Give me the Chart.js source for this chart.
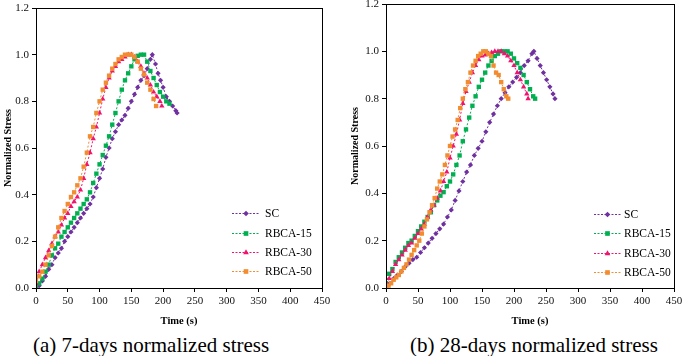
<!DOCTYPE html>
<html>
<head>
<meta charset="utf-8">
<script src="https://cdn.jsdelivr.net/npm/chart.js@4.4.1/dist/chart.umd.min.js"></script>
<style>
	body { margin: 0; background: #fff; }
	#wrap { position: relative; width: 685px; height: 356px; overflow: hidden; }
	canvas { position: absolute; top: 0; }
	.cap { position: absolute; top: 335px; font: 21px "Liberation Serif", "Times New Roman", serif; line-height: 21px; color: #000; white-space: nowrap; }
</style>
</head>
<body>
<div id="wrap">
	<canvas id="c7" width="340" height="330" style="left:0"></canvas>
	<canvas id="c28" width="345" height="330" style="left:340px"></canvas>
	<div class="cap" style="left:33px">(a) 7-days normalized stress</div>
	<div class="cap" style="left:410px">(b) 28-days normalized stress</div>
</div>
<script>

const seriesNames = ['SC', 'RBCA-15', 'RBCA-30', 'RBCA-50'];
const seriesColors = ['#7030a0', '#00b050', '#f0146e', '#f28c30'];
const seriesMarkers = ['rectRot', 'rect', 'triangle', 'rect'];

const timeTicks = [0, 50, 100, 150, 200, 250, 300, 350, 400, 450];
const timeTickLabels = ['0', '50', '100', '150', '200', '250', '300', '350', '400', '450'];
const stressTicks = [0, 0.2, 0.4, 0.6, 0.8, 1.0, 1.2];
const stressTickLabels = ['0.0', '0.2', '0.4', '0.6', '0.8', '1.0', '1.2'];

// (a) 7 days
const sc7Time = [0,5,10,15,20,25,30,35,40,45,50,55,60,65,70,75,80,85,90,95,100,105,110,115,120,125,130,135,140,145,150,155,160,165,170,175,180,183,188,192,196,200,205,210,215,220,222];
const sc7Stress = [0.00,0.01,0.03,0.05,0.08,0.10,0.13,0.15,0.17,0.20,0.22,0.24,0.26,0.28,0.30,0.32,0.34,0.36,0.39,0.43,0.47,0.51,0.56,0.60,0.64,0.67,0.70,0.72,0.74,0.77,0.80,0.83,0.86,0.89,0.91,0.94,0.98,1.00,0.96,0.92,0.89,0.86,0.82,0.80,0.78,0.76,0.75];

const rb15d7Time = [0,5,10,15,20,25,30,35,40,45,50,55,60,65,70,75,80,85,90,95,100,105,110,115,120,125,130,135,140,145,150,155,160,165,170,175,180,185,190,195,200,205,210];
const rb15d7Stress = [0.01,0.02,0.04,0.07,0.10,0.14,0.17,0.19,0.22,0.24,0.26,0.28,0.30,0.32,0.34,0.36,0.38,0.41,0.45,0.49,0.53,0.57,0.61,0.65,0.70,0.75,0.80,0.85,0.89,0.92,0.95,0.98,0.995,1.00,1.00,0.97,0.93,0.90,0.87,0.84,0.82,0.80,0.79];

const rb30d7Time = [0,5,10,15,20,25,30,35,40,45,50,55,60,65,70,75,80,85,90,95,100,105,110,115,120,125,130,135,140,145,150,155,160,165,170,175,180,185,190,195,198];
const rb30d7Stress = [0.02,0.07,0.10,0.13,0.16,0.19,0.22,0.24,0.27,0.30,0.32,0.35,0.37,0.39,0.42,0.47,0.53,0.58,0.64,0.69,0.75,0.81,0.86,0.90,0.93,0.95,0.97,0.98,0.99,1.00,1.00,0.99,0.97,0.95,0.92,0.90,0.87,0.84,0.82,0.80,0.78];

const rb50d7Time = [0,5,10,15,20,25,30,35,40,45,50,55,60,65,70,75,80,85,90,95,100,105,110,115,120,125,130,135,140,145,150,155,160,165,170,175,180,185,189];
const rb50d7Stress = [0.03,0.05,0.07,0.10,0.14,0.18,0.22,0.26,0.30,0.33,0.36,0.39,0.41,0.44,0.47,0.52,0.58,0.65,0.69,0.75,0.80,0.85,0.88,0.91,0.94,0.96,0.98,0.99,1.00,1.00,1.00,0.99,0.97,0.94,0.915,0.88,0.85,0.81,0.78];

// (b) 28 days
const sc28Time = [0,6,12,18,24,30,36,42,48,54,60,66,72,78,84,90,96,102,108,114,120,126,132,138,144,150,156,162,168,174,180,186,192,198,204,210,216,222,228,231,236,241,246,251,256,261,264];
const sc28Stress = [0.00,0.02,0.04,0.055,0.07,0.09,0.105,0.12,0.13,0.15,0.17,0.19,0.21,0.23,0.25,0.27,0.30,0.33,0.37,0.41,0.45,0.49,0.52,0.56,0.59,0.62,0.66,0.70,0.735,0.77,0.80,0.825,0.85,0.87,0.89,0.91,0.94,0.96,0.99,1.00,0.97,0.94,0.91,0.88,0.85,0.82,0.80];

const rb15d28Time = [0,5,10,15,20,25,30,35,40,45,50,55,60,65,70,75,80,85,90,95,100,105,110,115,120,125,130,135,140,145,150,155,160,165,170,175,180,185,190,195,200,205,210,215,220,225,230,233];
const rb15d28Stress = [0.02,0.06,0.08,0.11,0.13,0.15,0.17,0.19,0.20,0.22,0.24,0.26,0.28,0.30,0.32,0.35,0.37,0.39,0.405,0.43,0.45,0.48,0.52,0.56,0.62,0.67,0.72,0.77,0.81,0.85,0.88,0.91,0.94,0.96,0.98,0.99,1.00,1.00,1.00,0.99,0.97,0.95,0.93,0.90,0.87,0.84,0.81,0.80];

const rb30d28Time = [0,5,10,15,20,25,30,35,40,45,50,55,60,65,70,75,80,85,90,95,100,105,110,115,120,125,130,135,140,145,150,155,160,165,170,175,180,185,190,195,200,205,210,215,220,222];
const rb30d28Stress = [0.00,0.04,0.07,0.10,0.12,0.14,0.16,0.18,0.19,0.21,0.23,0.25,0.27,0.30,0.33,0.35,0.38,0.41,0.45,0.49,0.55,0.60,0.65,0.71,0.78,0.83,0.87,0.91,0.94,0.965,0.98,0.985,0.99,0.995,1.00,1.00,1.00,0.99,0.98,0.96,0.94,0.91,0.88,0.85,0.82,0.80];

const rb50d28Time = [0,4,8,12,16,20,24,28,32,36,40,44,48,52,56,60,64,68,72,76,80,84,88,92,96,100,104,108,112,116,120,124,128,132,136,140,144,148,152,156,160,164,168,172,176,180,184,188,191];
const rb50d28Stress = [0.00,0.01,0.02,0.035,0.045,0.055,0.07,0.085,0.10,0.12,0.14,0.16,0.18,0.20,0.23,0.26,0.29,0.32,0.35,0.38,0.42,0.45,0.48,0.52,0.56,0.60,0.64,0.67,0.71,0.76,0.80,0.84,0.87,0.91,0.94,0.96,0.98,0.99,1.00,1.00,0.99,0.98,0.94,0.91,0.90,0.87,0.84,0.81,0.80];


const serif = '"Liberation Serif", "Times New Roman", serif';

function points(times, values) {
	return times.map(function(t, i) { return {x: t, y: values[i]}; });
}

function datasets(times, values) {
	return seriesNames.map(function(name, i) {
		return {
			label: name,
			data: points(times[i], values[i]),
			borderColor: seriesColors[i],
			backgroundColor: seriesColors[i],
			borderWidth: 1,
			borderDash: [2, 2],
			pointStyle: seriesMarkers[i],
			pointRadius: seriesMarkers[i] === 'rectRot' ? 2.6 : 3.1,
			pointBorderWidth: 0,
			pointBackgroundColor: seriesColors[i],
			order: 4 - i
		};
	});
}

// frame round the plot area and the line + marker legend
const frameLegend = {
	id: 'frameLegend',
	afterDraw(chart, args, opts) {
		const ctx = chart.ctx;
		const a = chart.chartArea;

		ctx.save();
		ctx.strokeStyle = '#000';
		ctx.lineWidth = 1;
		ctx.strokeRect(Math.round(a.left) + 0.5, Math.round(a.top) + 0.5, Math.round(a.right - a.left), Math.round(a.bottom - a.top));

		ctx.font = '11.5px ' + serif;
		ctx.textBaseline = 'middle';
		ctx.textAlign = 'left';

		chart.data.datasets.forEach(function(ds, i) {
			const y = opts.rows[i];
			ctx.strokeStyle = ds.borderColor;
			ctx.setLineDash([2, 1.5]);
			ctx.beginPath();
			ctx.moveTo(opts.x, y + 0.5);
			ctx.lineTo(opts.x + opts.len, y + 0.5);
			ctx.stroke();
			ctx.setLineDash([]);
			ctx.fillStyle = ds.borderColor;
			Chart.helpers.drawPoint(ctx, {pointStyle: ds.pointStyle, radius: ds.pointRadius + 0.2, rotation: 0, borderWidth: 0}, opts.x + opts.len / 2, y + 0.5);
			ctx.fillStyle = '#000';
			ctx.fillText(ds.label, opts.textX, y + 1);
		});
		ctx.restore();
	}
};

function makeChart(id, sets, padding, yWidth, legend) {
	return new Chart(document.getElementById(id), {
		type: 'line',
		data: {datasets: sets},
		plugins: [frameLegend],
		options: {
			responsive: false,
			animation: false,
			devicePixelRatio: 1,
			layout: {padding: padding},
			plugins: {
				legend: {display: false},
				tooltip: {enabled: false},
				frameLegend: legend
			},
			scales: {
				x: {
					type: 'linear',
					min: 0,
					max: 450,
					afterBuildTicks: function(scale) {
						scale.ticks = timeTicks.map(function(v) { return {value: v}; });
					},
					afterFit: function(scale) {
						scale.height = 42;
						scale.paddingLeft = 0;
						scale.paddingRight = 0;
					},
					grid: {drawOnChartArea: false, tickLength: 4, color: '#000'},
					border: {color: '#000', width: 1},
					ticks: {
						color: '#111',
						padding: 3,
						maxRotation: 0,
						font: {family: serif, size: 11},
						callback: function(v, i) { return timeTickLabels[i]; }
					},
					title: {
						display: true,
						text: 'Time (s)',
						color: '#000',
						padding: {top: 0, bottom: 2},
						font: {family: serif, size: 10.5, weight: 'bold'}
					}
				},
				y: {
					min: 0,
					max: 1.2,
					afterBuildTicks: function(scale) {
						scale.ticks = stressTicks.map(function(v) { return {value: v}; });
					},
					afterFit: function(scale) {
						scale.width = yWidth;
						scale.paddingTop = 0;
						scale.paddingBottom = 0;
					},
					grid: {drawOnChartArea: false, tickLength: 4, color: '#000'},
					border: {color: '#000', width: 1},
					ticks: {
						color: '#111',
						padding: 3,
						font: {family: serif, size: 11},
						callback: function(v, i) { return stressTickLabels[i]; }
					},
					title: {
						display: true,
						text: 'Normalized Stress',
						color: '#000',
						padding: {top: 2, bottom: 0},
						font: {family: serif, size: 10, weight: 'bold'}
					}
				}
			}
		}
	});
}

makeChart('c7',
	datasets([sc7Time, rb15d7Time, rb30d7Time, rb50d7Time], [sc7Stress, rb15d7Stress, rb30d7Stress, rb50d7Stress]),
	{left: 0, top: 8, right: 18, bottom: 0}, 36,
	{x: 232, len: 28, textX: 265, rows: [213, 233, 252, 271]});

makeChart('c28',
	datasets([sc28Time, rb15d28Time, rb30d28Time, rb50d28Time], [sc28Stress, rb15d28Stress, rb30d28Stress, rb50d28Stress]),
	{left: 7, top: 3, right: 11, bottom: 0}, 39,
	{x: 254, len: 27, textX: 284, rows: [214, 233, 253, 272]});

</script>
</body>
</html>
